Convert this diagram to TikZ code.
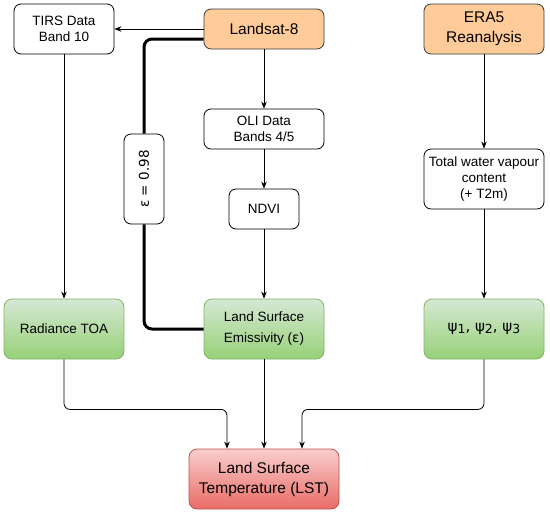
\documentclass[tikz,border=0pt]{standalone}
\usepackage{fontspec}
\setmainfont{Liberation Sans}
\newfontfamily\dejavu{DejaVu Sans}
\usepackage{tikz}
\usetikzlibrary{arrows.meta,positioning}
\definecolor{dioorange}{RGB}{255,204,153}
\definecolor{diostroke}{RGB}{54,57,61}
\definecolor{greentop}{RGB}{213,232,212}
\definecolor{greenbot}{RGB}{151,208,119}
\definecolor{greenline}{RGB}{130,179,102}
\definecolor{redtop}{RGB}{248,206,204}
\definecolor{redbot}{RGB}{234,107,102}
\definecolor{redline}{RGB}{184,84,80}
\newcommand{\psisub}[1]{ψ\raisebox{-2pt}{\fontsize{12.5}{14}\selectfont #1}}

\begin{document}
\begin{tikzpicture}[
        x=1pt, y=-1pt,
        >={Stealth[length=7pt,width=5.5pt]},
        every node/.style={font=\fontsize{13.5}{16}\selectfont, align=center, inner sep=2pt},
        data/.style={draw=black, fill=white, rounded corners=7pt, line width=0.8pt},
        source/.style={draw=diostroke, fill=dioorange, rounded corners=7pt, line width=0.8pt, font=\fontsize{15.5}{20}\selectfont},
        result/.style={draw=greenline, top color=greentop, bottom color=greenbot, rounded corners=8pt, line width=0.8pt, minimum width=120pt, minimum height=60pt},
        target/.style={draw=redline, top color=redtop, bottom color=redbot, rounded corners=8pt, line width=0.8pt, minimum width=150pt, minimum height=60pt, font=\fontsize{15.5}{20}\selectfont},
        link/.style={->, line width=0.8pt},
        fixed/.style={line width=3pt, rounded corners=8pt}
    ]
        \useasboundingbox (0,0) rectangle (550,515);
        \node[source, minimum width=120pt, minimum height=40pt] (landsat) at (264,29) {Landsat-8};
        \node[data, minimum width=100pt, minimum height=50pt] (tirs) at (64,29) {TIRS Data\\Band 10};
        \node[source, minimum width=120pt, minimum height=50pt] (era) at (484,29) {ERA5\\Reanalysis};
        \node[data, minimum width=120pt, minimum height=40pt] (oli) at (264,129) {OLI Data\\Bands 4/5};
        \node[data, minimum width=70pt, minimum height=40pt] (ndvi) at (264,209) {NDVI};
        \node[data, minimum width=120pt, minimum height=60pt] (wv) at (484,179) {Total water vapour\\content\\(+ T2m)};
        \node[data, minimum width=40pt, minimum height=90pt] (eps) at (144,179) {\rotatebox{90}{\dejavu ε = 0.98}};
        \node[result] (rad) at (64,329) {Radiance TOA};
        \node[result] (lse) at (264,329) {Land Surface\\[5pt]Emissivity ({\dejavu ε})};
        \node[result] (psi) at (484,329) {\dejavu\fontsize{15}{18}\selectfont \psisub{1}, \psisub{2}, \psisub{3}};
        \node[target] (lst) at (264,479) {Land Surface\\Temperature (LST)};
        \draw[link] (landsat) -- (tirs);
        \draw[link] (landsat) -- (oli);
        \draw[link] (oli) -- (ndvi);
        \draw[link] (ndvi) -- (lse);
        \draw[link] (tirs) -- (rad);
        \draw[link] (era) -- (wv);
        \draw[link] (wv) -- (psi);
        \draw[link] (lse) -- (lst);
        \draw[link, rounded corners=6pt] (rad.south) -- ++(0,50) -| ([xshift=-37pt]lst.north);
        \draw[link, rounded corners=6pt] (psi.south) -- ++(0,50) -| ([xshift=38pt]lst.north);
        \draw[fixed] (landsat.west) ++(0,10) -| (eps.north);
        \draw[fixed] (eps.south) |- (lse.west);
    \end{tikzpicture}
\end{document}
